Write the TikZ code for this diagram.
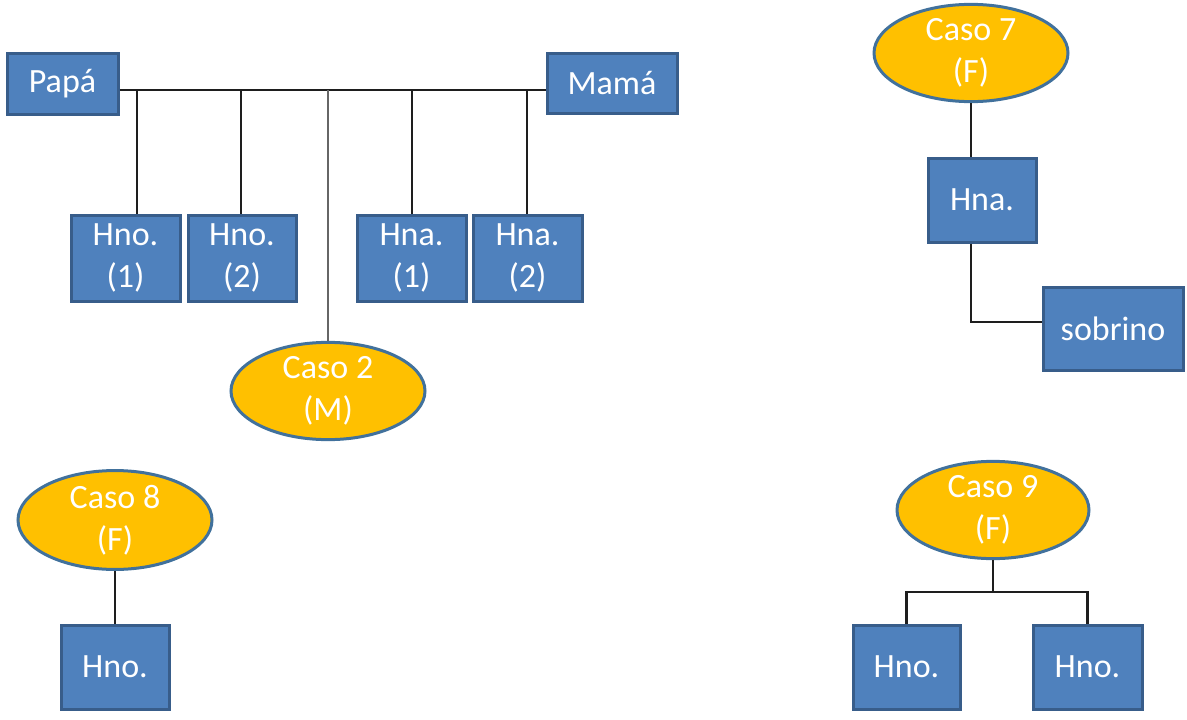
\documentclass[tikz,border=0pt]{standalone}
\usepackage{fontspec}
\setmainfont{Carlito}
\usetikzlibrary{shapes.geometric}
\definecolor{boxblue}{HTML}{4F81BD}
\definecolor{boxedge}{HTML}{385D8A}
\definecolor{gold}{HTML}{FFC000}
\definecolor{goldedge}{HTML}{41719C}
\definecolor{wire}{HTML}{1E1E1E}
\begin{document}
\begin{tikzpicture}[x=1pt,y=-1pt,
  person/.style={rectangle, fill=boxblue, draw=boxedge, line width=3pt, text=white,
    inner sep=0pt, align=center, font=\fontsize{34}{42}\selectfont},
  caso/.style={ellipse, fill=gold, draw=goldedge, line width=3pt, text=white,
    inner sep=0pt, align=center, font=\fontsize{34}{42}\selectfont},
  link/.style={draw=wire, line width=2.4pt}]
\path[use as bounding box] (0,0) rectangle (1187,720);
% top-left family
\node[person, minimum width=111pt, minimum height=61pt] (papa) at (62.5,83.5) {Papá};
\node[person, minimum width=130pt, minimum height=60pt] (mama) at (612,83) {Mamá};
\node[person, minimum width=109pt, minimum height=86pt] (hno1) at (125.5,258) {Hno.\\(1)};
\node[person, minimum width=108pt, minimum height=86pt] (hno2) at (242,258) {Hno.\\(2)};
\node[person, minimum width=109pt, minimum height=86pt] (hna1) at (411.5,258) {Hna.\\(1)};
\node[person, minimum width=109pt, minimum height=86pt] (hna2) at (527.5,258) {Hna.\\(2)};
\node[caso, minimum width=194pt, minimum height=96pt] (caso2) at (328,391) {Caso 2\\(M)};
\coordinate (bar) at (0,90);
\coordinate (j1) at (137,90);
\coordinate (j2) at (241,90);
\coordinate (j3) at (328,90);
\coordinate (j4) at (412,90);
\coordinate (j5) at (527,90);
\draw[link] (papa.east |- bar) -- (mama.west |- bar);
\draw[link] (j1) -- (j1 |- hno1.north);
\draw[link] (j2) -- (j2 |- hno2.north);
\draw[link, draw=black!60] (j3) -- (caso2.north);
\draw[link] (j4) -- (j4 |- hna1.north);
\draw[link] (j5) -- (j5 |- hna2.north);
% Caso 7
\node[caso, minimum width=194pt, minimum height=93pt] (caso7) at (971,53) {Caso 7\\(F)};
\node[person, minimum width=108pt, minimum height=84pt] (hna7) at (982,200) {Hna.};
\node[person, minimum width=140pt, minimum height=83pt] (sob) at (1113,328.5) {sobrino};
\coordinate (k1) at (971,322);
\draw[link] (caso7.south) -- (caso7.south |- hna7.north);
\draw[link] (caso7.south |- hna7.south) -- (k1) -- (k1 -| sob.west);
% Caso 8
\node[caso, minimum width=194pt, minimum height=95pt] (caso8) at (115,520) {Caso 8\\(F)};
\node[person, minimum width=108pt, minimum height=84pt] (hno8) at (115,667) {Hno.};
\draw[link] (caso8.south) -- (hno8.north);
% Caso 9
\node[caso, minimum width=192pt, minimum height=94pt] (caso9) at (993,510) {Caso 9\\(F)};
\node[person, minimum width=107pt, minimum height=84pt] (hno9a) at (906.5,667) {Hno.};
\node[person, minimum width=109pt, minimum height=84pt] (hno9b) at (1087.5,667) {Hno.};
\coordinate (m1) at (993,592);
\draw[link] (caso9.south) -- (m1);
\draw[link] (hno9a.north) -- (hno9a.north |- m1) -- (hno9b.north |- m1) -- (hno9b.north);
\end{tikzpicture}
\end{document}
